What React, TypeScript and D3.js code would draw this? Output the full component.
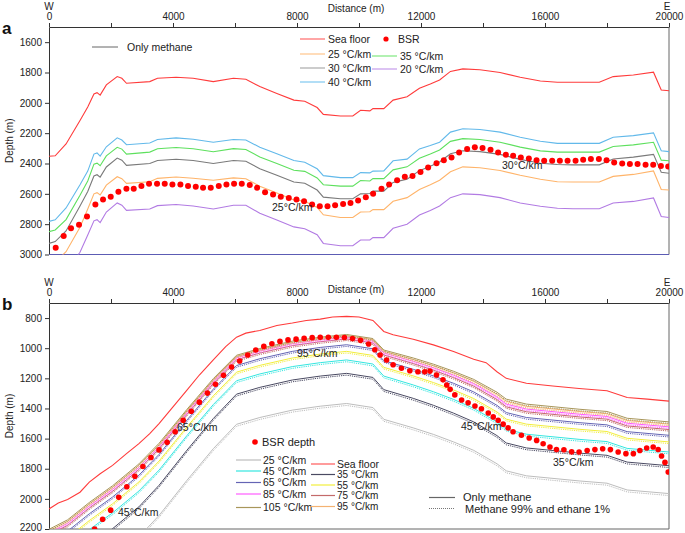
import React, { useEffect, useRef } from 'react';
import * as d3 from 'd3';

// ---------- panel a (distance m, depth m) ----------
const distA = [0, 200, 550, 1000, 1250, 1450, 1550, 1650, 1850, 2200, 2350, 2500, 3250, 3500, 4100, 4650, 5300, 5950, 6350, 6800, 7350, 7900, 8250, 8650, 8850, 9400, 9800, 10050, 10350, 10450, 10800, 11100, 11550, 11950, 12300, 12600, 12950, 13350, 13900, 14550, 15200, 15850, 16400, 16900, 17750, 18200, 18850, 19500, 19750, 20000];
const seaFloorA = [2352, 2349, 2271, 2116, 2027, 1942, 1933, 1949, 1882, 1827, 1838, 1871, 1860, 1838, 1831, 1838, 1860, 1838, 1844, 1893, 1938, 1982, 1989, 2031, 2076, 2087, 2087, 2049, 2053, 2038, 2038, 1982, 1960, 1904, 1876, 1849, 1793, 1776, 1782, 1800, 1831, 1856, 1864, 1864, 1864, 1827, 1816, 1798, 1916, 1920];
const grad40A = [2782, 2771, 2693, 2540, 2450, 2338, 2330, 2351, 2290, 2231, 2245, 2276, 2265, 2242, 2231, 2240, 2260, 2242, 2245, 2293, 2335, 2380, 2392, 2435, 2480, 2493, 2493, 2460, 2462, 2450, 2449, 2382, 2371, 2304, 2282, 2260, 2193, 2171, 2176, 2193, 2227, 2253, 2267, 2267, 2267, 2227, 2216, 2198, 2316, 2322];
const grad35A = [2849, 2838, 2770, 2610, 2515, 2404, 2398, 2415, 2350, 2293, 2305, 2338, 2325, 2303, 2295, 2303, 2322, 2302, 2308, 2357, 2400, 2444, 2452, 2495, 2540, 2549, 2549, 2512, 2515, 2500, 2500, 2442, 2422, 2366, 2338, 2311, 2254, 2236, 2242, 2260, 2292, 2317, 2325, 2325, 2325, 2288, 2277, 2260, 2378, 2382];
const grad30A = [2927, 2915, 2845, 2680, 2585, 2482, 2474, 2490, 2423, 2364, 2378, 2412, 2400, 2380, 2372, 2380, 2400, 2380, 2385, 2434, 2478, 2522, 2530, 2575, 2622, 2632, 2632, 2600, 2598, 2582, 2582, 2525, 2503, 2447, 2418, 2390, 2336, 2316, 2322, 2340, 2373, 2398, 2407, 2409, 2409, 2370, 2358, 2340, 2458, 2464];
const grad25A = [3060, 3050, 2982, 2820, 2700, 2600, 2592, 2608, 2543, 2487, 2500, 2531, 2520, 2498, 2489, 2497, 2510, 2495, 2500, 2550, 2595, 2640, 2649, 2690, 2738, 2756, 2756, 2720, 2718, 2704, 2704, 2649, 2625, 2571, 2540, 2510, 2455, 2422, 2428, 2446, 2478, 2504, 2520, 2522, 2522, 2485, 2472, 2449, 2571, 2575];
const grad20A = [3190, 3180, 3110, 2985, 2871, 2778, 2770, 2790, 2720, 2660, 2675, 2709, 2700, 2678, 2670, 2680, 2700, 2675, 2675, 2728, 2773, 2818, 2830, 2870, 2927, 2942, 2942, 2904, 2904, 2889, 2889, 2827, 2800, 2740, 2710, 2680, 2625, 2600, 2605, 2625, 2660, 2682, 2695, 2698, 2698, 2660, 2650, 2627, 2749, 2756];
const bsrDistA = [216, 474, 710, 968, 1226, 1496, 1743, 1991, 2239, 2497, 2733, 2981, 3227, 3485, 3733, 3981, 4239, 4485, 4734, 4969, 5218, 5476, 5724, 5970, 6218, 6476, 6712, 6970, 7228, 7477, 7735, 7983, 8228, 8487, 8735, 8984, 9229, 9487, 9725, 9971, 10220, 10455, 10726, 10971, 11229, 11478, 11726, 11984, 12230, 12500, 12736, 12985, 13230, 13488, 13736, 13985, 14243, 14488, 14737, 14972, 15220, 15479, 15727, 15973, 16231, 16479, 16728, 16986, 17231, 17480, 17738, 17986, 18231, 18490, 18738, 18986, 19244, 19490, 19739, 19974];
const bsrDepthA = [2956, 2878, 2827, 2804, 2749, 2671, 2638, 2620, 2587, 2567, 2567, 2549, 2533, 2533, 2533, 2538, 2538, 2549, 2553, 2560, 2560, 2549, 2538, 2533, 2533, 2542, 2560, 2589, 2604, 2620, 2627, 2638, 2649, 2671, 2682, 2682, 2676, 2667, 2660, 2644, 2622, 2600, 2567, 2538, 2511, 2487, 2482, 2456, 2427, 2398, 2378, 2360, 2327, 2304, 2293, 2298, 2309, 2327, 2342, 2349, 2360, 2367, 2378, 2382, 2382, 2382, 2382, 2382, 2376, 2371, 2371, 2378, 2393, 2400, 2404, 2404, 2409, 2409, 2416, 2420];

// ---------- panel b ----------
const seaDistB = [0, 300, 600, 1000, 1300, 1650, 2050, 2500, 2900, 3250, 3550, 4000, 4450, 4850, 5300, 5700, 6050, 6350, 6800, 7350, 7850, 8300, 8750, 9150, 9600, 10000, 10450, 10800, 11100, 11750, 12400, 13050, 13700, 14100, 14450, 14750, 15400, 16250, 17100, 18000, 18650, 19300, 20000];
const seaFloorB = [2067, 2027, 2004, 1956, 1889, 1833, 1778, 1700, 1633, 1567, 1500, 1389, 1278, 1178, 1078, 989, 927, 900, 882, 849, 833, 816, 807, 793, 789, 793, 816, 889, 911, 940, 978, 1022, 1073, 1096, 1156, 1200, 1233, 1251, 1267, 1282, 1327, 1338, 1351];
const distB = [0, 600, 1300, 2050, 2900, 3550, 4450, 5300, 6050, 6800, 7850, 8750, 9600, 10450, 10800, 11750, 12400, 13050, 13700, 14450, 14750, 15400, 17100, 18000, 18650, 20000];
const grad25B = [2687, 2624, 2509, 2398, 2253, 2110, 1877, 1667, 1505, 1460, 1411, 1385, 1367, 1394, 1472, 1529, 1572, 1622, 1678, 1767, 1814, 1847, 1881, 1896, 1941, 1965];
const grad35B = [2487, 2424, 2309, 2198, 2053, 1910, 1677, 1467, 1305, 1260, 1211, 1185, 1167, 1194, 1275, 1333, 1379, 1431, 1489, 1580, 1629, 1662, 1696, 1711, 1756, 1780];
const grad45B = [2382, 2319, 2204, 2093, 1948, 1809, 1580, 1374, 1216, 1171, 1122, 1096, 1078, 1105, 1185, 1244, 1289, 1340, 1399, 1489, 1538, 1571, 1605, 1620, 1665, 1689];
const grad55B = [2322, 2259, 2144, 2033, 1888, 1749, 1522, 1316, 1159, 1114, 1065, 1039, 1021, 1048, 1127, 1184, 1228, 1277, 1334, 1423, 1471, 1504, 1538, 1553, 1598, 1622];
const grad65B = [2277, 2214, 2099, 1988, 1843, 1705, 1477, 1272, 1115, 1070, 1021, 995, 977, 1004, 1083, 1140, 1184, 1233, 1290, 1379, 1427, 1460, 1494, 1509, 1554, 1578];
const grad75B = [2239, 2176, 2061, 1950, 1805, 1667, 1439, 1234, 1077, 1032, 983, 957, 939, 966, 1045, 1102, 1146, 1195, 1252, 1341, 1389, 1422, 1456, 1471, 1516, 1540];
const grad85B = [2225, 2162, 2047, 1936, 1791, 1653, 1426, 1220, 1064, 1019, 970, 944, 926, 953, 1031, 1087, 1130, 1179, 1235, 1324, 1371, 1404, 1438, 1453, 1498, 1522];
const grad95B = [2212, 2149, 2034, 1923, 1778, 1641, 1414, 1210, 1054, 1009, 960, 934, 916, 943, 1020, 1075, 1116, 1164, 1219, 1306, 1353, 1386, 1420, 1435, 1480, 1504];
const grad105B = [2202, 2139, 2024, 1913, 1768, 1631, 1406, 1202, 1047, 1002, 953, 927, 909, 936, 1012, 1065, 1106, 1153, 1207, 1292, 1338, 1371, 1405, 1420, 1465, 1489];
// extra depth of the 99% methane + 1% ethane curve, m (25..105 °C/km)
const ethaneShiftB = [13, 12, 12, 11, 11, 10, 10, 10, 10];
const bsrDistB = [1470, 1730, 1990, 2250, 2510, 2770, 3030, 3290, 3550, 3810, 4070, 4330, 4590, 4850, 5110, 5370, 5630, 5890, 6150, 6410, 6670, 6930, 7190, 7450, 7710, 7970, 8230, 8490, 8750, 9010, 9270, 9530, 9790, 10050, 10310, 10510, 10680, 10890, 11100, 11370, 11640, 11900, 12120, 12290, 12500, 12710, 12830, 12940, 13090, 13310, 13520, 13740, 13950, 14170, 14330, 14490, 14650, 14810, 14970, 15240, 15490, 15730, 15940, 16160, 16370, 16610, 16860, 17100, 17360, 17610, 17860, 18110, 18360, 18610, 18850, 19060, 19280, 19490, 19650, 19760, 19870, 19975];
const bsrDepthB = [2200, 2135, 2075, 1990, 1920, 1850, 1785, 1725, 1675, 1625, 1555, 1478, 1418, 1358, 1298, 1240, 1180, 1125, 1085, 1045, 1012, 988, 970, 955, 945, 940, 935, 930, 928, 928, 928, 929, 936, 948, 972, 1010, 1045, 1078, 1110, 1133, 1150, 1156, 1156, 1152, 1178, 1210, 1244, 1273, 1310, 1344, 1362, 1384, 1402, 1430, 1456, 1478, 1504, 1529, 1555, 1578, 1596, 1612, 1634, 1656, 1672, 1674, 1688, 1689, 1679, 1673, 1667, 1673, 1689, 1700, 1700, 1679, 1662, 1656, 1672, 1715, 1758, 1822];

const distTicks = [0, 2000, 4000, 6000, 8000, 10000, 12000, 14000, 16000, 18000, 20000];
const depthTicksA = [1600, 1800, 2000, 2200, 2400, 2600, 2800, 3000];
const depthTicksB = [800, 1000, 1200, 1400, 1600, 1800, 2000, 2200];

const FONT = '"Liberation Sans", Arial, Helvetica, sans-serif';

const App = () => {
  const svgRef = useRef<SVGSVGElement>(null);

  useEffect(() => {
    document.body.style.margin = '0';
    const svg = d3.select(svgRef.current);
    svg.selectAll('*').remove();
    svg.attr('width', 685).attr('height', 533).style('font-family', FONT).style('display', 'block');

    const x = d3.scaleLinear().domain([0, 20000]).range([49, 669]);
    const yA = d3.scaleLinear().domain([1500, 3000]).range([27, 254.5]);
    const yB = d3.scaleLinear().domain([700, 2200]).range([303, 529]);

    const text = (tx: number, ty: number, s: string, size = 10.5, anchor = 'start') =>
      svg.append('text').attr('x', tx).attr('y', ty).attr('font-size', size)
        .attr('text-anchor', anchor).attr('dy', '0.35em').attr('fill', '#222').text(s);

    const frame = (y: any, ticks: number[], letter: string, id: string, bottomColor: string, labelY: number[]) => {
      const [top, bottom] = y.range();
      const gx = svg.append('g').attr('transform', `translate(0,${top})`)
        .call(d3.axisTop(x).tickValues(distTicks)
          .tickFormat((d: any) => (+d % 4000 === 0 ? String(d) : ''))
          .tickSize(4).tickSizeOuter(0));
      const gy = svg.append('g').attr('transform', `translate(${x(0)},0)`)
        .call(d3.axisLeft(y).tickValues(ticks).tickFormat((d: any) => String(d))
          .tickSize(4).tickSizeOuter(0));
      [gx, gy].forEach((a) => {
        a.attr('font-family', FONT).attr('font-size', 10);
        a.selectAll('path, line').attr('stroke', '#333');
        a.selectAll('text').attr('fill', '#222');
      });
      // keep the lowest depth label inside the picture
      gy.selectAll('text').filter((d: any) => y(d) > 526).attr('dy', '0.1em');

      svg.append('line').attr('x1', x(20000)).attr('x2', x(20000)).attr('y1', top).attr('y2', bottom)
        .attr('stroke', '#666');
      svg.append('line').attr('x1', x(0)).attr('x2', x(20000)).attr('y1', bottom).attr('y2', bottom)
        .attr('stroke', bottomColor);

      svg.append('clipPath').attr('id', id).append('rect')
        .attr('x', x(0)).attr('y', top).attr('width', x(20000) - x(0)).attr('height', bottom - top);

      svg.append('text').attr('x', 2).attr('y', top + 7).attr('font-size', 17).attr('font-weight', 'bold')
        .attr('fill', '#111').text(letter);
      text(x(0), labelY[0], 'W', 10, 'middle');
      text(x(20000) - 2, labelY[0], 'E', 10, 'middle');
      text(356, labelY[1], 'Distance (m)', 10, 'middle');
      svg.append('text').attr('transform', `translate(13,${(top + bottom) / 2}) rotate(-90)`)
        .attr('font-size', 10).attr('text-anchor', 'middle').attr('fill', '#222').text('Depth (m)');
    };

    // ---------- panel a ----------
    frame(yA, depthTicksA, 'a', 'clipA', '#5c5cb4', [6, 8]);

    const lineA = d3.line<number>().x((d, i) => x(distA[i])).y((d) => yA(d));
    const seriesA = [
      { values: grad20A, color: '#b27be3' },
      { values: grad25A, color: '#ffb46a' },
      { values: grad30A, color: '#7a7a7a' },
      { values: grad35A, color: '#5ee05e' },
      { values: grad40A, color: '#62b9ea' },
      { values: seaFloorA, color: '#ff3b3b' },
    ];
    const gA = svg.append('g').attr('clip-path', 'url(#clipA)');
    seriesA.forEach((s) => {
      gA.append('path').attr('d', lineA(s.values)).attr('fill', 'none')
        .attr('stroke', s.color).attr('stroke-width', 1.1);
    });
    gA.selectAll('circle.bsr').data(bsrDistA).enter().append('circle')
      .attr('cx', (d) => x(d)).attr('cy', (d, i) => yA(bsrDepthA[i])).attr('r', 3)
      .attr('fill', '#ff0000');

    text(272, 207, '25°C/km');
    text(502, 165, '30°C/km');

    // legend a
    svg.append('line').attr('x1', 92).attr('x2', 118).attr('y1', 47).attr('y2', 47).attr('stroke', '#666');
    text(127, 47, 'Only methane');
    const legA = [
      { label: 'Sea floor', color: '#ff6b6b', lx: 300, ly: 39 },
      { label: '25 °C/km', color: '#ffc48a', lx: 300, ly: 54 },
      { label: '30 °C/km', color: '#aaaaaa', lx: 300, ly: 68 },
      { label: '40 °C/km', color: '#7fc8f0', lx: 300, ly: 82 },
      { label: '35 °C/km', color: '#7fe87f', lx: 372, ly: 56 },
      { label: '20 °C/km', color: '#c49aeb', lx: 372, ly: 69 },
    ];
    legA.forEach((l) => {
      svg.append('line').attr('x1', l.lx).attr('x2', l.lx + 25).attr('y1', l.ly).attr('y2', l.ly)
        .attr('stroke', l.color).attr('stroke-width', 1.2);
      text(l.lx + 28, l.ly, l.label);
    });
    svg.append('circle').attr('cx', 386).attr('cy', 39).attr('r', 2.6).attr('fill', '#ff0000');
    text(398, 39, 'BSR');

    // ---------- panel b ----------
    frame(yB, depthTicksB, 'b', 'clipB', '#666', [282, 289]);

    const lineB = d3.line<number>().x((d, i) => x(distB[i])).y((d) => yB(d));
    const seriesB = [
      { label: '25 °C/km', values: grad25B, color: '#bdbdbd' },
      { label: '35 °C/km', values: grad35B, color: '#4a4a62' },
      { label: '45 °C/km', values: grad45B, color: '#34e6e0' },
      { label: '55 °C/km', values: grad55B, color: '#f2ee3c' },
      { label: '65 °C/km', values: grad65B, color: '#6464b4' },
      { label: '75 °C/km', values: grad75B, color: '#c46a6a' },
      { label: '85 °C/km', values: grad85B, color: '#ff5cff' },
      { label: '95 °C/km', values: grad95B, color: '#f4b272' },
      { label: '105 °C/km', values: grad105B, color: '#a8965a' },
    ];
    const gB = svg.append('g').attr('clip-path', 'url(#clipB)');
    seriesB.forEach((s, k) => {
      gB.append('path').attr('d', lineB(s.values.map((v) => v + ethaneShiftB[k]))).attr('fill', 'none')
        .attr('stroke', s.color).attr('stroke-width', 1).attr('stroke-dasharray', '1.2,1');
      gB.append('path').attr('d', lineB(s.values)).attr('fill', 'none')
        .attr('stroke', s.color).attr('stroke-width', 1);
    });
    const seaLine = d3.line<number>().x((d, i) => x(seaDistB[i])).y((d) => yB(d));
    gB.append('path').attr('d', seaLine(seaFloorB)).attr('fill', 'none')
      .attr('stroke', '#ff3b3b').attr('stroke-width', 1.1);
    gB.selectAll('circle.bsr').data(bsrDistB).enter().append('circle')
      .attr('cx', (d) => x(d)).attr('cy', (d, i) => yB(bsrDepthB[i])).attr('r', 2.8)
      .attr('fill', '#ff0000');

    text(297, 353, '95°C/km');
    text(177, 427, '65°C/km');
    text(118, 512, '45°C/km');
    text(461, 426, '45°C/km');
    text(553, 462, '35°C/km');

    // legend b
    svg.append('circle').attr('cx', 255).attr('cy', 442).attr('r', 2.8).attr('fill', '#ff0000');
    text(262, 442, 'BSR depth', 11);
    const leftCol = [0, 2, 4, 6, 8];
    const rightCol = [1, 3, 5, 7];
    leftCol.forEach((k, j) => {
      const ly = [460, 471, 482.5, 494, 507.5][j];
      svg.append('line').attr('x1', 236).attr('x2', 261).attr('y1', ly).attr('y2', ly)
        .attr('stroke', seriesB[k].color).attr('stroke-width', 1.2);
      text(263, ly, seriesB[k].label, 10.5);
    });
    svg.append('line').attr('x1', 311).attr('x2', 335).attr('y1', 464).attr('y2', 464)
      .attr('stroke', '#ff5a5a').attr('stroke-width', 1.2);
    text(337, 464, 'Sea floor', 10.5);
    rightCol.forEach((k, j) => {
      const ly = [474.5, 485, 495.5, 506.5][j];
      svg.append('line').attr('x1', 311).attr('x2', 335).attr('y1', ly).attr('y2', ly)
        .attr('stroke', seriesB[k].color).attr('stroke-width', 1.2);
      text(337, ly, seriesB[k].label, 10);
    });
    svg.append('line').attr('x1', 429).attr('x2', 455).attr('y1', 497.5).attr('y2', 497.5)
      .attr('stroke', '#666').attr('stroke-width', 1.2);
    text(463, 497, 'Only methane', 11);
    svg.append('line').attr('x1', 429).attr('x2', 455).attr('y1', 508.5).attr('y2', 508.5)
      .attr('stroke', '#777').attr('stroke-dasharray', '1,1');
    text(465, 509, 'Methane 99% and ethane 1%', 11);
  }, []);

  return <svg ref={svgRef}></svg>;
};

export default App;
